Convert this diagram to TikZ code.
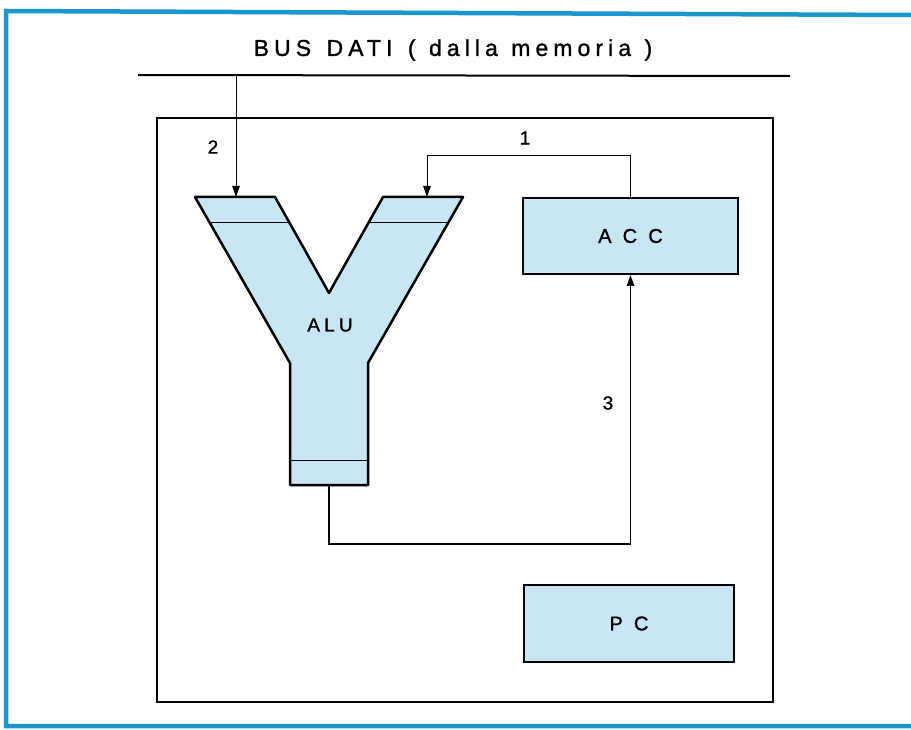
\documentclass[tikz,border=0pt]{standalone}
\usepackage{fontspec}
\setmainfont{Liberation Sans}[FakeBold=1.2]
\newfontfamily\spaced[LetterSpace=22,FakeBold=1.2]{Liberation Sans}
\newfontfamily\wide[LetterSpace=28,FakeBold=1.2]{Liberation Sans}
\usetikzlibrary{arrows.meta}
\definecolor{frameblue}{RGB}{25,150,205}
\definecolor{unitfill}{RGB}{200,230,244}

\begin{document}
\begin{tikzpicture}[x=1pt,y=-1pt,
  unitbox/.style={draw=black, line width=2pt, fill=unitfill, inner sep=0pt,
    font=\wide\fontsize{20}{20}\selectfont},
  wire/.style={line width=1pt, -{Triangle[length=11pt,width=7.5pt]}},
  numlabel/.style={font=\fontsize{19}{19}\selectfont, inner sep=0pt},
  frameline/.style={draw=frameblue, line width=4.5pt}]
\useasboundingbox (0,0) rectangle (911,730);

% page frame
\draw[frameline] (911,15) -- (6,11) -- (6,726) -- (911,726);

% data bus
\coordinate (bus-w) at (138,75);
\coordinate (bus-e) at (790,76);
\coordinate (bus-tap) at (236,75);
\draw[line width=2pt] (bus-w) -- (bus-e);
\node[font=\spaced\fontsize{23}{23}\selectfont, inner sep=0pt] (bustitle) at (453,50)
  {BUS\hspace{4pt} DATI\hspace{4pt} (\hspace{2pt} dalla\hspace{2pt} memoria\hspace{2pt} )};

% CPU outline
\draw[line width=1.5pt] (157,118) rectangle (773,702);

% ALU (Y shape)
\coordinate (alu-in-a) at (236,197);
\coordinate (alu-in-b) at (427,197);
\coordinate (alu-out) at (329,485);
\fill[unitfill] (195,197) -- (275,197) -- (329,293) -- (383,197) -- (463,197)
  -- (368,363) -- (368,485) -- (290,485) -- (290,363) -- cycle;
\draw[line width=0.8pt] (209,222) -- (289,222);
\draw[line width=0.8pt] (369,222) -- (449,222);
\draw[line width=0.8pt] (290,460) -- (368,460);
\draw[line width=2.5pt, line join=round] (195,197) -- (275,197) -- (329,293) -- (383,197) -- (463,197)
  -- (368,363) -- (368,485) -- (290,485) -- (290,363) -- cycle;
\node[font=\spaced\fontsize{19}{19}\selectfont, inner sep=0pt] (alu) at (330,325) {ALU};

% registers
\node[unitbox, minimum width=215pt, minimum height=76pt] (acc) at (630.5,236) {A C C};
\node[unitbox, minimum width=210pt, minimum height=77pt] (pc) at (629,623.5) {P C};

% transfers
\draw[wire] (bus-tap) -- (alu-in-a);
\draw[wire] (acc.north) -- ++(0,-41) -| (alu-in-b);
\draw[wire, line width=1.3pt] (alu-out) -- ++(0,59) -| (acc.south);

\node[numlabel] (n1) at (525,138) {1};
\node[numlabel] (n2) at (213,147) {2};
\node[numlabel] (n3) at (608,403) {3};
\end{tikzpicture}
\end{document}
